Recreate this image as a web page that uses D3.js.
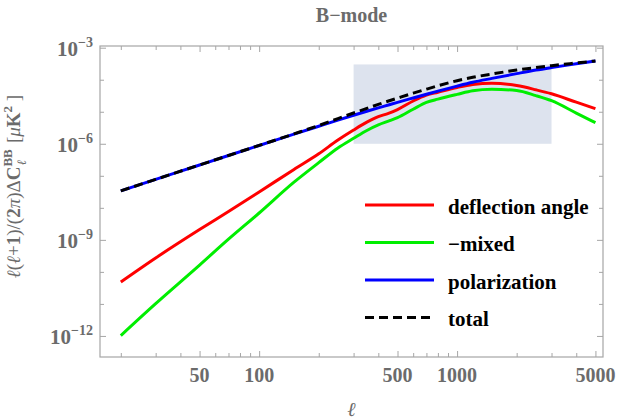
<!DOCTYPE html>
<html>
<head>
<meta charset="utf-8">
<script src="https://cdn.jsdelivr.net/npm/d3@7"></script>
<style>
  body { margin: 0; background: #fff; }
  text { font-family: "Liberation Serif", "Times New Roman", serif; }
</style>
</head>
<body>
<div id="chart"></div>
<script>
// multipole values shared by every curve
const ells = [20, 30, 50, 70, 100, 150, 200, 250, 300, 350, 400, 450, 500, 600, 700, 800, 1000, 1200, 1500, 2000, 2500, 3000, 4000, 5000];

const deflection = [4.84e-11, 2.72e-10, 2.1e-9, 7.69e-9, 3.13e-8, 1.58e-7, 4.86e-7, 1.31e-6, 2.69e-6, 4.72e-6, 7.02e-6, 8.89e-6, 1.17e-5, 2.17e-5, 3.31e-5, 4.08e-5, 5.74e-5, 7.1e-5, 7.74e-5, 6.56e-5, 4.85e-5, 3.64e-5, 1.99e-5, 1.25e-5];
const mixed = [1.03e-12, 1.02e-11, 1.63e-10, 1.05e-9, 6.9e-9, 6.32e-8, 2.57e-7, 7.4e-7, 1.48e-6, 2.6e-6, 3.89e-6, 5.1e-6, 6.53e-6, 1.2e-5, 1.95e-5, 2.47e-5, 3.48e-5, 4.51e-5, 5.02e-5, 4.61e-5, 3.2e-5, 2.21e-5, 9.08e-6, 4.55e-6];
const polarization = [3.4e-8, 7.73e-8, 2.18e-7, 4.31e-7, 8.85e-7, 2.0e-6, 3.53e-6, 5.47e-6, 7.76e-6, 1.035e-5, 1.32e-5, 1.63e-5, 1.97e-5, 2.7e-5, 3.51e-5, 4.39e-5, 6.31e-5, 8.32e-5, 1.1e-4, 1.55e-4, 2.0e-4, 2.4e-4, 3.13e-4, 3.85e-4];
const total = [3.4e-8, 7.73e-8, 2.18e-7, 4.31e-7, 8.9e-7, 2.04e-6, 3.72e-6, 6.1e-6, 9.12e-6, 1.27e-5, 1.7e-5, 2.16e-5, 2.66e-5, 3.8e-5, 5.07e-5, 6.46e-5, 9.33e-5, 1.19e-4, 1.51e-4, 2.0e-4, 2.4e-4, 2.75e-4, 3.33e-4, 3.85e-4];

const seriesNames = ['deflection angle', '\u2212mixed', 'polarization', 'total'];

// shaded band
const bandEll = [300, 3000];
const bandVal = [1e-6, 3e-4];

// ticks
const xMajor = [50, 100, 500, 1000, 5000];
const xMinor = [20, 30, 40, 60, 70, 80, 90, 200, 300, 400, 600, 700, 800, 900, 2000, 3000, 4000];
const yMajor = [1e-12, 1e-9, 1e-6, 1e-3];
const yMinor = [1e-11, 1e-10, 1e-8, 1e-7, 1e-5, 1e-4];
const yExp = ['\u221212', '\u22129', '\u22126', '\u22123'];

const width = 618, height = 419;
const margin = { top: 46, right: 15, bottom: 62, left: 100 };
const w = width - margin.left - margin.right;
const h = height - margin.top - margin.bottom;

const frameColor = '#a6a6a6';
const labelColor = '#6b6b6b';

const svg = d3.select('#chart')
  .append('svg')
  .attr('width', width)
  .attr('height', height)
  .append('g')
  .attr('transform', `translate(${margin.left}, ${margin.top})`);

const x = d3.scaleLog()
  .domain([15.7, 5460])
  .range([0, w]);

const y = d3.scaleLog()
  .domain([2.2e-13, 1.13e-3])
  .range([h, 0]);

// band
svg.append('rect')
  .attr('x', x(bandEll[0]))
  .attr('y', y(bandVal[1]))
  .attr('width', x(bandEll[1]) - x(bandEll[0]))
  .attr('height', y(bandVal[0]) - y(bandVal[1]))
  .attr('fill', '#dde3ee');

// frame ticks, pointing inward on all four sides
const tickAxis = (axis, vals, size) => axis.tickValues(vals).tickSize(size).tickFormat('');

const addTicks = (axisFn, scale, vals, size, tr) => {
  svg.append('g')
    .attr('transform', tr)
    .call(tickAxis(axisFn(scale), vals, size))
    .call(g => g.select('.domain').remove())
    .call(g => g.selectAll('line').attr('stroke', frameColor));
};

addTicks(d3.axisBottom, x, xMajor, -6, `translate(0, ${h})`);
addTicks(d3.axisBottom, x, xMinor, -4, `translate(0, ${h})`);
addTicks(d3.axisTop, x, xMajor, -6, 'translate(0, 0)');
addTicks(d3.axisTop, x, xMinor, -4, 'translate(0, 0)');
addTicks(d3.axisLeft, y, yMajor, -6, 'translate(0, 0)');
addTicks(d3.axisLeft, y, yMinor, -4, 'translate(0, 0)');
addTicks(d3.axisRight, y, yMajor, -6, `translate(${w}, 0)`);
addTicks(d3.axisRight, y, yMinor, -4, `translate(${w}, 0)`);

svg.append('rect')
  .attr('width', w)
  .attr('height', h)
  .attr('fill', 'none')
  .attr('stroke', frameColor)
  .attr('stroke-width', 1.2);

// x tick labels
svg.append('g')
  .selectAll('text')
  .data(xMajor)
  .join('text')
  .attr('x', d => x(d))
  .attr('y', h + 25)
  .attr('text-anchor', 'middle')
  .attr('font-size', 20)
  .attr('font-weight', 'bold')
  .attr('fill', labelColor)
  .text(d => d);

// y tick labels 10^n
const yLab = svg.append('g')
  .selectAll('text')
  .data(yMajor)
  .join('text')
  .attr('x', -7)
  .attr('y', d => y(d) + 8)
  .attr('text-anchor', 'end')
  .attr('font-weight', 'bold')
  .attr('fill', labelColor);

yLab.append('tspan').attr('font-size', 21).text('10');
yLab.append('tspan')
  .attr('font-size', 14)
  .attr('dy', -9)
  .text((d, i) => yExp[i]);

// curves
const line = vals => d3.line()
  .x((d, i) => x(ells[i]))
  .y(d => y(d))
  .curve(d3.curveMonotoneX)(vals);

const series = [
  { vals: deflection, color: '#ff0000', dash: null },
  { vals: mixed, color: '#00ee00', dash: null },
  { vals: polarization, color: '#0000ff', dash: null },
  { vals: total, color: '#000000', dash: '9,5' }
];

series.forEach(s => {
  svg.append('path')
    .attr('d', line(s.vals))
    .attr('fill', 'none')
    .attr('stroke', s.color)
    .attr('stroke-width', 3)
    .attr('stroke-dasharray', s.dash);
});

// legend
const legend = svg.append('g')
  .attr('transform', 'translate(265, 159)');

const rowH = 37.5;

legend.selectAll('line')
  .data(series)
  .join('line')
  .attr('x1', 0)
  .attr('x2', 69)
  .attr('y1', (d, i) => i * rowH)
  .attr('y2', (d, i) => i * rowH)
  .attr('stroke', d => d.color)
  .attr('stroke-width', 3)
  .attr('stroke-dasharray', d => d.dash);

legend.selectAll('text')
  .data(seriesNames)
  .join('text')
  .attr('x', 83)
  .attr('y', (d, i) => i * rowH + 8.5)
  .attr('font-size', 21)
  .attr('font-weight', 'bold')
  .attr('fill', '#000')
  .text(d => d);

// title
svg.append('text')
  .attr('x', w / 2)
  .attr('y', -24)
  .attr('text-anchor', 'middle')
  .attr('font-size', 20)
  .attr('font-weight', 'bold')
  .attr('fill', labelColor)
  .text('B\u2212mode');

// x label
svg.append('text')
  .attr('x', w / 2)
  .attr('y', h + 59)
  .attr('text-anchor', 'middle')
  .attr('font-size', 20)
  .attr('font-style', 'italic')
  .attr('fill', labelColor)
  .text('\u2113');

// y label
const yTitle = svg.append('text')
  .attr('transform', `translate(${-80}, ${h / 2 - 15}) rotate(-90)`)
  .attr('text-anchor', 'middle')
  .attr('font-size', 19)
  .attr('fill', labelColor);

yTitle.append('tspan').attr('font-style', 'italic').text('\u2113');
yTitle.append('tspan').text('(');
yTitle.append('tspan').attr('font-style', 'italic').text('\u2113');
yTitle.append('tspan').text('+');
yTitle.append('tspan').attr('font-weight', 'bold').text('1');
yTitle.append('tspan').text(')/(');
yTitle.append('tspan').attr('font-weight', 'bold').text('2');
yTitle.append('tspan').attr('font-style', 'italic').text('\u03c0');
yTitle.append('tspan').text(')\u0394');
yTitle.append('tspan').attr('font-weight', 'bold').text('C');
yTitle.append('tspan').attr('font-weight', 'bold').attr('font-size', 13).attr('dy', -8).text('BB');
yTitle.append('tspan').attr('font-style', 'italic').attr('font-size', 13).attr('dx', -16).attr('dy', 14).text('\u2113');
yTitle.append('tspan').attr('dx', 12).attr('dy', -6).text(' [');
yTitle.append('tspan').attr('font-style', 'italic').text('\u03bc');
yTitle.append('tspan').attr('font-weight', 'bold').text('K');
yTitle.append('tspan').attr('font-weight', 'bold').attr('font-size', 13).attr('dy', -8).text('2');
yTitle.append('tspan').attr('dy', 8).text(' ]');
</script>
</body>
</html>
